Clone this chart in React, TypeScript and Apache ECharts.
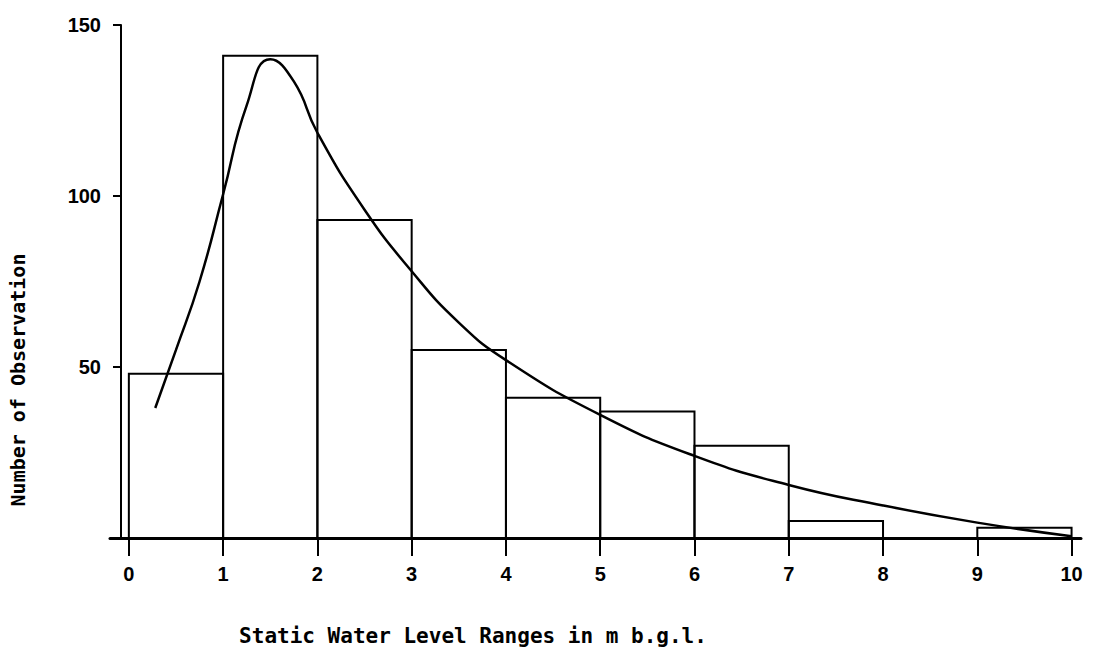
import React, { useEffect, useRef } from "react";
import * as echarts from "echarts";

// Histogram bins (m b.g.l.) and counts
const binStart = [0, 1, 2, 3, 4, 5, 6, 7, 8, 9];
const binEnd = [1, 2, 3, 4, 5, 6, 7, 8, 9, 10];
const counts = [48, 141, 93, 55, 41, 37, 27, 5, 0, 3];

// Fitted curve points
const curveX = [0.28, 0.5, 0.75, 1.0, 1.25, 1.5, 1.75, 2.0, 2.5, 3.0, 3.5, 4.0, 5.0, 6.0, 7.0, 8.0, 9.0, 10.0];
const curveY = [38, 55, 75, 100.5, 126.5, 140, 133.5, 118.5, 96, 78, 63, 52, 36, 24, 15.5, 9.5, 4.5, 0.5];

const xTicks = [0, 1, 2, 3, 4, 5, 6, 7, 8, 9, 10];
const yTicks = [50, 100, 150];

const xTitle = "Static Water Level Ranges in m b.g.l.";
const yTitle = "Number of Observation";

export default function App() {
  const ref = useRef<HTMLDivElement>(null);
  useEffect(() => {
    if (!ref.current) return;
    const chart = echarts.init(ref.current, undefined, { renderer: "svg" });
    const barData = binStart.map((s, i) => [s, binEnd[i], counts[i]]);
    const lineData = curveX.map((x, i) => [x, curveY[i]]);
    chart.setOption({
      animation: false,
      backgroundColor: "#ffffff",
      grid: { left: 110, right: 15, top: 25, bottom: 126, containLabel: false },
      xAxis: {
        type: "value",
        min: -0.2,
        max: 10.1,
        splitLine: { show: false },
        axisLine: { show: true, onZero: false, lineStyle: { color: "#000", width: 3 } },
        axisTick: {
          show: true,
          customValues: xTicks,
          length: 18,
          lineStyle: { color: "#000", width: 2 },
        },
        axisLabel: {
          customValues: xTicks,
          margin: 26,
          color: "#000",
          fontSize: 20,
          fontWeight: "bold",
          fontFamily: "Liberation Sans",
        },
      },
      yAxis: {
        type: "value",
        min: 0,
        max: 150,
        offset: -11,
        splitLine: { show: false },
        axisLine: { show: true, onZero: false, lineStyle: { color: "#000", width: 2 } },
        axisTick: {
          show: true,
          customValues: yTicks,
          length: 8,
          lineStyle: { color: "#000", width: 2 },
        },
        axisLabel: {
          customValues: yTicks,
          margin: 20,
          color: "#000",
          fontSize: 20,
          fontWeight: "bold",
          fontFamily: "Liberation Sans",
        },
      },
      series: [
        {
          type: "custom",
          data: barData,
          encode: { x: [0, 1], y: 2 },
          renderItem: (params: any, api: any) => {
            const p0 = api.coord([api.value(0), api.value(2)]);
            const p1 = api.coord([api.value(1), 0]);
            return {
              type: "rect",
              shape: { x: p0[0], y: p0[1], width: p1[0] - p0[0], height: p1[1] - p0[1] },
              style: { fill: "none", stroke: "#000", lineWidth: 2 },
            };
          },
          z: 2,
        },
        {
          type: "line",
          data: lineData,
          smooth: 0.5,
          showSymbol: false,
          lineStyle: { color: "#000", width: 2.5 },
          z: 3,
        },
      ],
      graphic: [
        {
          type: "text",
          x: 473,
          y: 636,
          style: {
            text: xTitle,
            fill: "#000",
            font: "bold 21px 'DejaVu Sans Mono'",
            align: "center",
            verticalAlign: "middle",
          },
        },
        {
          type: "text",
          x: 18,
          y: 380,
          rotation: Math.PI / 2,
          style: {
            text: yTitle,
            fill: "#000",
            font: "bold 20px 'DejaVu Sans Mono'",
            align: "center",
            verticalAlign: "middle",
          },
        },
      ],
    });
    return () => chart.dispose();
  }, []);
  return <div ref={ref} style={{ width: 1096, height: 664, margin: -8 }} />;
}
